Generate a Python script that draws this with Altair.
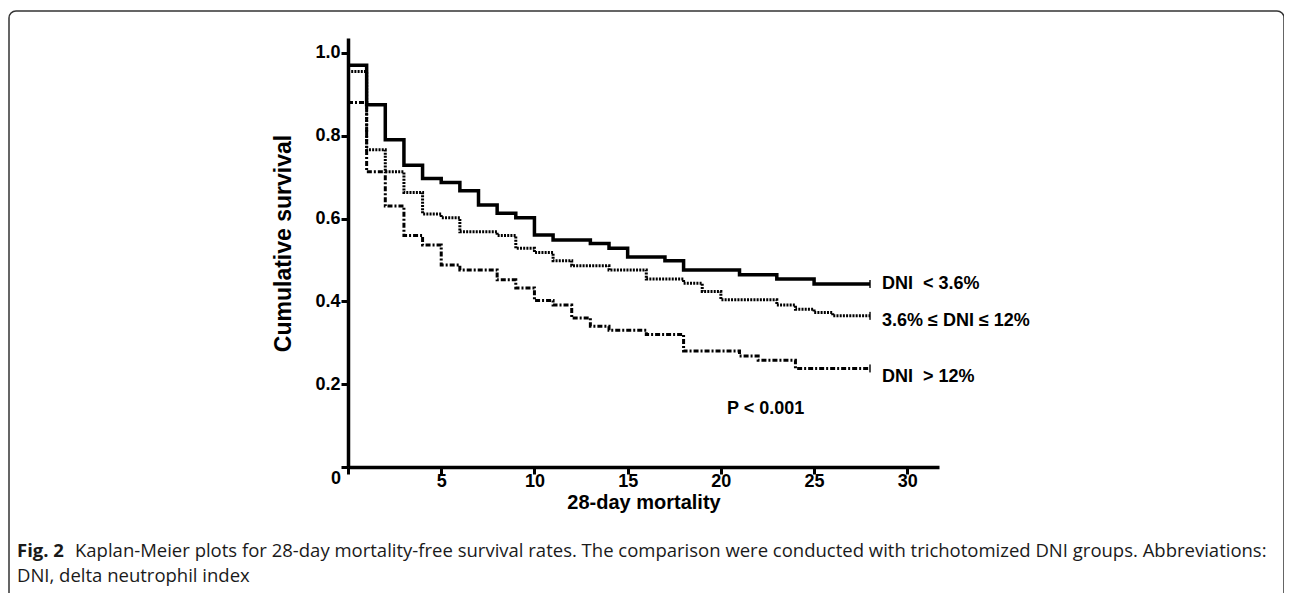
import altair as alt
import pandas as pd

# ---- data (Kaplan-Meier steps) ----
days_low = [0, 1, 2, 3, 4, 5, 6, 7, 8, 9, 10, 11, 13, 14, 15, 17, 18, 21, 23, 25, 28]
surv_low = [0.970, 0.875, 0.790, 0.729, 0.697, 0.687, 0.667, 0.633, 0.613, 0.602, 0.560,
            0.548, 0.540, 0.528, 0.507, 0.498, 0.476, 0.464, 0.454, 0.442, 0.442]

days_mid = [0, 1, 2, 3, 4, 5, 6, 8, 9, 10, 11, 12, 14, 16, 18, 19, 20, 23, 24, 25, 26, 28]
surv_mid = [0.955, 0.766, 0.713, 0.663, 0.611, 0.602, 0.568, 0.559, 0.528, 0.518, 0.498,
            0.486, 0.476, 0.454, 0.444, 0.424, 0.404, 0.391, 0.381, 0.373, 0.365, 0.365]

days_high = [0, 1, 2, 3, 4, 5, 6, 8, 9, 10, 11, 12, 13, 14, 16, 18, 21, 22, 24, 28]
surv_high = [0.880, 0.713, 0.630, 0.559, 0.536, 0.488, 0.476, 0.452, 0.432, 0.402, 0.391,
             0.360, 0.340, 0.330, 0.320, 0.280, 0.268, 0.258, 0.238, 0.238]

group_labels = ["DNI\u00a0\u00a0< 3.6%", "3.6% \u2264 DNI \u2264 12%", "DNI\u00a0\u00a0> 12%"]

x_ticks = [0, 5, 10, 15, 20, 25, 30]
y_ticks = [0, 0.2, 0.4, 0.6, 0.8, 1.0]

p_text = ["P < 0.001"]
p_day = [22.4]
p_surv = [0.14]

caption_bold = "Fig. 2"
caption_line1 = ("Kaplan-Meier plots for 28-day mortality-free survival rates. The comparison were "
                 "conducted with trichotomized DNI groups. Abbreviations:")
caption_line2 = "DNI, delta neutrophil index"

FONT = "Liberation Sans"
CAP_FONT = "Open Sans"
CAP_SIZE = 18.5

df_low = pd.DataFrame({"day": days_low, "surv": surv_low})
df_mid = pd.DataFrame({"day": days_mid, "surv": surv_mid})
df_high = pd.DataFrame({"day": days_high, "surv": surv_high})
df_ends = pd.DataFrame({
    "day": [days_low[-1], days_mid[-1], days_high[-1]],
    "surv": [surv_low[-1], surv_mid[-1], surv_high[-1]],
    "label": group_labels,
})
df_p = pd.DataFrame({"day": p_day, "surv": p_surv, "txt": p_text})
df_origin = pd.DataFrame({"day": [0], "surv": [0], "txt": ["0"]})
one = pd.DataFrame({"k": [0]})

X = alt.X("day:Q",
          scale=alt.Scale(domain=[0, 31.7], nice=False, zero=False),
          axis=alt.Axis(values=x_ticks,
                        labelExpr="datum.value == 0 ? '' : datum.label",
                        title="28-day mortality",
                        titleY=35, titleBaseline="middle", titleFontSize=20,
                        labelPadding=-2))
Y = alt.Y("surv:Q",
          scale=alt.Scale(domain=[0, 1.036], nice=False),
          axis=alt.Axis(values=y_ticks, format=".1f",
                        labelExpr="datum.value == 0 ? '' : datum.label",
                        title="Cumulative survival",
                        titleX=-65, titleY=205, titleAngle=-90,
                        titleBaseline="middle", titleAlign="center", titleFontSize=23,
                        labelPadding=1))

line_low = alt.Chart(df_low).mark_line(
    interpolate="step-after", color="black", strokeWidth=3.5
).encode(x=X, y=Y)

line_mid = alt.Chart(df_mid).mark_line(
    interpolate="step-after", color="black", strokeWidth=3, strokeDash=[2, 1.2]
).encode(x=X, y=Y)

line_high = alt.Chart(df_high).mark_line(
    interpolate="step-after", color="black", strokeWidth=3, strokeDash=[5, 2, 2, 2]
).encode(x=X, y=Y)

censor = alt.Chart(df_ends).mark_tick(
    orient="vertical", size=8, thickness=2, color="black"
).encode(x=X, y=Y)

label_dy = [0, 5, 9]
label_layers = [
    alt.Chart(df_ends.iloc[[i]]).mark_text(
        align="left", baseline="middle", dx=12, dy=label_dy[i],
        font=FONT, fontWeight="bold", fontSize=18, color="black"
    ).encode(x=X, y=Y, text="label:N")
    for i in range(3)
]

ptext = alt.Chart(df_p).mark_text(
    align="center", baseline="middle",
    font=FONT, fontWeight="bold", fontSize=18, color="black"
).encode(x=X, y=Y, text="txt:N")

origin = alt.Chart(df_origin).mark_text(
    align="center", baseline="middle", dx=-12, dy=12,
    font=FONT, fontWeight="bold", fontSize=18, color="black"
).encode(x=X, y=Y, text="txt:N")

border = alt.Chart(one).mark_rect(
    fillOpacity=0, stroke="#333333", strokeWidth=1.5, cornerRadius=7
).encode(x=alt.value(-339), x2=alt.value(936), y=alt.value(-27), y2=alt.value(620))

cap_bold = alt.Chart(one).mark_text(
    align="left", baseline="middle", font=CAP_FONT, fontWeight="bold",
    fontSize=CAP_SIZE, color="#1a1a1a"
).encode(x=alt.value(-331), y=alt.value(513), text=alt.value(caption_bold))

cap_1 = alt.Chart(one).mark_text(
    align="left", baseline="middle", font=CAP_FONT,
    fontSize=CAP_SIZE, color="#1a1a1a"
).encode(x=alt.value(-273), y=alt.value(513), text=alt.value(caption_line1))

cap_2 = alt.Chart(one).mark_text(
    align="left", baseline="middle", font=CAP_FONT,
    fontSize=CAP_SIZE, color="#1a1a1a"
).encode(x=alt.value(-331), y=alt.value(538), text=alt.value(caption_line2))

chart = alt.layer(
    border, line_low, line_mid, line_high, censor, *label_layers, ptext, origin,
    cap_bold, cap_1, cap_2
).properties(
    width=591, height=429,
    autosize=alt.AutoSizeParams(type="none"),
    padding={"left": 340, "top": 30, "right": 345, "bottom": 126},
    background="white",
).configure_view(
    stroke=None
).configure_axis(
    grid=False,
    domainColor="black", domainWidth=3.5,
    tickColor="black", tickWidth=3, tickSize=7,
    labelFont=FONT, labelFontWeight="bold", labelFontSize=18, labelColor="black",
    titleFont=FONT, titleFontWeight="bold", titleColor="black",
)

chart.save("out.html", embed_options={"renderer": "svg", "actions": False})
